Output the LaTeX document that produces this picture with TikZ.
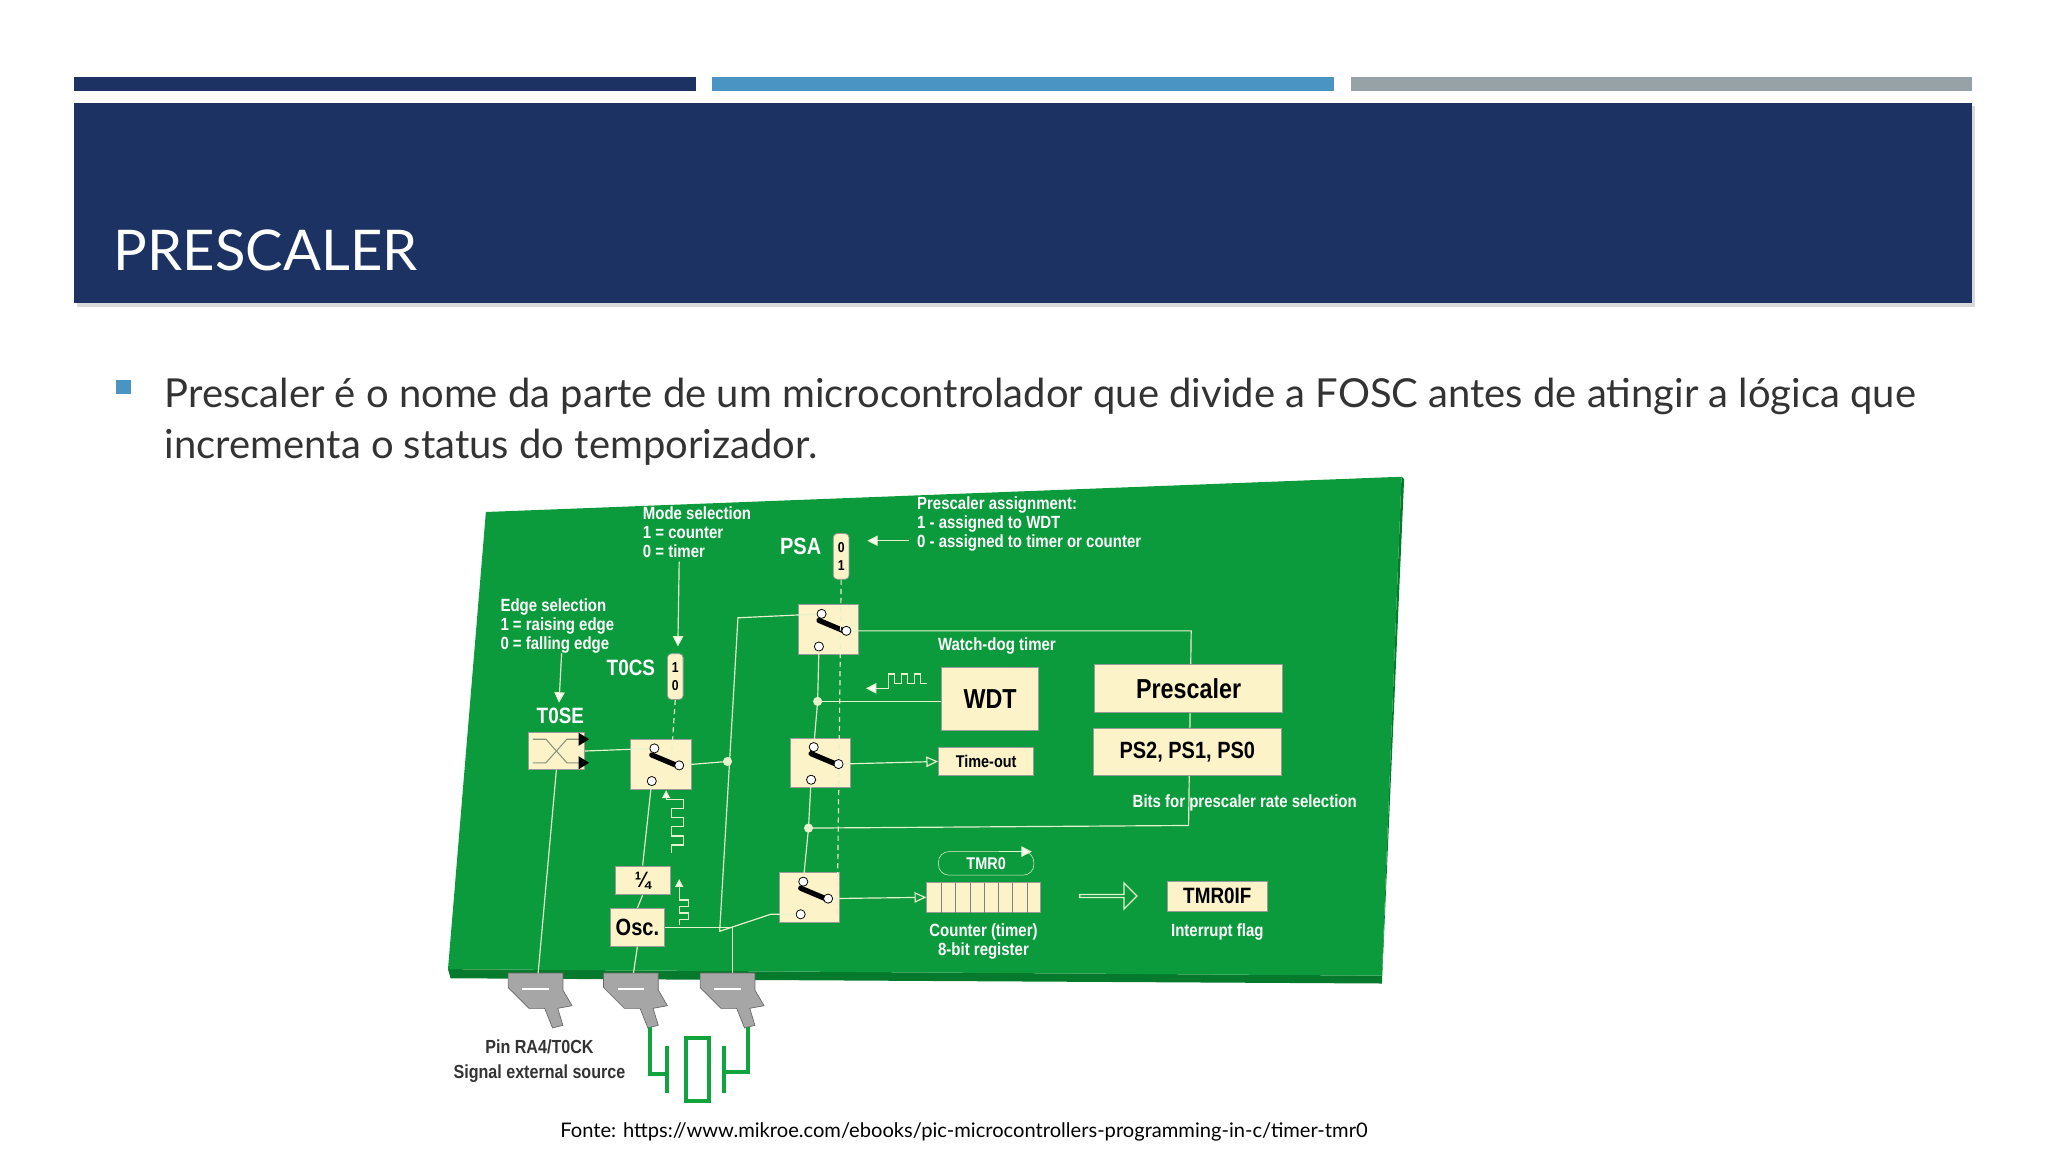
\documentclass[tikz,border=0pt]{standalone}
\usepackage{fontspec}
\setmainfont{Lato}
\newfontfamily\dg[FakeStretch=0.85]{Liberation Sans}
\usetikzlibrary{arrows.meta,shapes.arrows}
\definecolor{navy}{HTML}{1C3262}
\definecolor{barblue}{HTML}{4A94C4}
\definecolor{bargray}{HTML}{96A2A6}
\definecolor{board}{HTML}{0B9A3C}
\definecolor{boardside}{HTML}{067A2C}
\definecolor{cream}{HTML}{FCF3C8}
\definecolor{wire}{HTML}{E6F2CC}
\definecolor{txt}{HTML}{333333}
\definecolor{xtal}{HTML}{12A23E}
\tikzset{
 dtext/.style={text=white,font=\dg\bfseries\fontsize{13.5}{14.5}\selectfont,align=left,inner sep=0},
 cbox/.style={fill=cream,draw=black!40,line width=0.6pt,inner sep=0,font=\dg\bfseries},
 wl/.style={draw=wire,line width=0.9pt},
 dsh/.style={draw=wire,line width=0.9pt,dash pattern=on 4pt off 3pt},
 dotc/.style={circle,fill=wire,inner sep=0,minimum size=7pt},
 pin/.style={fill=white,draw=black,line width=0.6pt,inner sep=1.5pt,circle,minimum size=8pt},
 wa/.style={wl,-{Triangle[open,length=9pt,width=8pt]}},
 ws/.style={wl,-{Triangle[length=8pt,width=8pt,fill=white]}},
 switchbox/.pic={
   \fill[cream,draw=black!40,line width=0.6pt] (-23,-19) rectangle (23,19);
   \draw[line width=4pt,line cap=round,black] (-7,-7) -- (12,1);
   \node[pin,minimum size=7pt] (-in) at (-5,-12) {};
   \node[pin,minimum size=7pt] (-out) at (14,1) {};
   \node[pin,minimum size=7pt] (-bot) at (-7,13) {};
 },
 pinshape/.pic={
   \fill[gray!70,draw=black!60,line width=0.5pt] (-24,0) -- (18,0) -- (18,13) -- (25,25) -- (14,27) -- (18,40) -- (10,42) -- (4,27) -- (-8,27) -- (-24,11) -- cycle;
   \draw[white,line width=1.2pt] (-13,12) -- (7,12);
 }
}
\begin{document}
\begin{tikzpicture}[x=1pt,y=-1pt]
\useasboundingbox (0,0) rectangle (1568,882);
\fill[white] (0,0) rectangle (1568,882);
% top bars
\fill[navy] (57,59) rectangle (533,70);
\fill[barblue] (545,59) rectangle (1021,70);
\fill[bargray] (1034,59) rectangle (1510,70);
\fill[black!15] (59,81) rectangle (1512,235);
\fill[navy] (57,79) rectangle (1510,232);
\node[anchor=base west,text=white,font=\fontsize{43}{47}\selectfont,inner sep=0] (title) at (87,207) {PRESCALER};
% bullet
\fill[barblue] (89,291) rectangle (100,302);
\node[anchor=north west,text=txt,font=\fontsize{30.6}{39.5}\selectfont,align=left,inner sep=0] (body) at (126,289)
 {Prescaler é o nome da parte de um microcontrolador que divide a FOSC antes de atingir a lógica que\\incrementa o status do temporizador.};
% board
\fill[boardside] (343,742) -- (1058,747) -- (1073,365) -- (1075,367) -- (1058,753) -- (345,749) -- cycle;
\fill[board] (372,392) -- (1073,365) -- (1058,747) -- (343,742) -- cycle;
% texts
\node[dtext,anchor=north west] (mode) at (492,388) {Mode selection\\1 = counter\\0 = timer};
\node[dtext,anchor=north west] (pa) at (702,380) {Prescaler assignment:\\1 - assigned to WDT\\0 - assigned to timer or counter};
\node[dtext,anchor=north west] (edge) at (383,458) {Edge selection\\1 = raising edge\\0 = falling edge};
\node[dtext,font=\dg\bfseries\fontsize{18}{18}\selectfont] (psa) at (613,418) {PSA};
\node[dtext,font=\dg\bfseries\fontsize{17}{17}\selectfont] (tocs) at (483,511) {T0CS};
\node[dtext,font=\dg\bfseries\fontsize{17}{17}\selectfont] (tose) at (429,548) {T0SE};
\node[cbox,rounded corners=3pt,minimum width=12pt,minimum height=35pt,align=center,font=\dg\bfseries\fontsize{11}{14}\selectfont] (psat) at (644,426) {0\\1};
\node[cbox,rounded corners=3pt,minimum width=12pt,minimum height=35pt,align=center,font=\dg\bfseries\fontsize{11}{14}\selectfont] (tocst) at (517,518) {1\\0};
\coordinate (paend) at (696,414);
\draw[ws] (paend) -- (664,414);
\draw[ws] (520,430) -- (519,495);
\draw[ws] (430,500) -- (428,538);
% T0SE box
\node[cbox,minimum width=43pt,minimum height=28pt] (tosebox) at (426,575) {};
\draw[wire!60!black,line width=0.8pt] (408,566) -- (418,566) -- (434,584) -- (444,584);
\draw[wire!60!black,line width=0.8pt] (408,584) -- (418,584) -- (434,566) -- (444,566);
\fill[black] (443,561) -- (451,566) -- (443,571) -- cycle;
\fill[black] (443,579) -- (451,584) -- (443,589) -- cycle;
% switches
\pic (s1) at (506,585) {switchbox};
\pic (sp) at (634,482) {switchbox};
\pic (sm) at (628,584) {switchbox};
\pic (sb) at (620,687) {switchbox};
% dashed control lines
\draw[dsh] (psat.south) -- (641,700);
\draw[dsh] (tocst.south) -- (514,580);
% WDT etc
\node[dtext,anchor=south west] (wdtl) at (718,501) {Watch-dog timer};
\node[cbox,minimum width=74pt,minimum height=48pt,font=\dg\bfseries\fontsize{21}{21}\selectfont] (wdt) at (758,535) {WDT};
\node[cbox,minimum width=73pt,minimum height=22pt,font=\dg\bfseries\fontsize{13}{13}\selectfont] (to) at (755,583) {Time-out};
% right line through prescaler
\coordinate (r1) at (912,475);
\coordinate (r2) at (910,632);
\coordinate (dot2) at (619,634);
\coordinate (dot1) at (626,537);
\draw[wl] (sp-out) -- (r1|-sp-out) -- (r2) -- (dot2);
\node[cbox,minimum width=144pt,minimum height=37pt,font=\dg\bfseries\fontsize{21}{21}\selectfont] (presc) at (910,527) {Prescaler};
\node[cbox,minimum width=144pt,minimum height=36pt,font=\dg\bfseries\fontsize{18}{18}\selectfont] (ps) at (909,576) {PS2, PS1, PS0};
\node[dtext,anchor=base west] (bits) at (867,618) {Bits for prescaler rate selection};
% middle chain
\draw[wl] (sp-bot) -- (dot1) -- (sm-in);
\draw[wl] (wdt.west|-dot1) -- (dot1);
\node[dotc] at (dot1) {};
\draw[wl] (sm-bot) -- (dot2) -- (sb-in);
\node[dotc] at (dot2) {};
\draw[wa] (sm-out) -- (to.west);
% WDT pulse
\draw[wl,-{Triangle[length=8pt,width=8pt,fill=white]}] (710,523) -- (705,523) -- (705,516) -- (700,516) -- (700,523) -- (695,523) -- (695,516) -- (690,516) -- (690,523) -- (685,523) -- (685,516) -- (680,516) -- (680,527) -- (663,527);
% left big vertical
\coordinate (v1) at (565,473);
\coordinate (v2) at (551,713);
\coordinate (dot3) at (557,583);
\draw[wl] (sp-in) -- (v1) -- (v2) -- (sb-bot -| 590,0) -- (sb-bot);
\draw[wl] (tosebox.east) -- (s1-in);
\draw[wl] (s1-out) -- (dot3);
\node[dotc] at (dot3) {};
% TMR0
\node[draw=wire,rounded corners=8pt,minimum width=73pt,minimum height=18pt,inner sep=0,text=white,font=\dg\bfseries\fontsize{13}{13}\selectfont] (tmr0) at (755,661) {TMR0};
\draw[ws] (765,652) -- (790,652);
\node[cbox,minimum width=87pt,minimum height=23pt] (reg) at (753,687) {};
\foreach \i in {1,...,7} \draw[black!50,line width=0.6pt] (710+\i*10.9,676) -- (710+\i*10.9,699);
\draw[wa] (sb-out) -- (reg.west);
\node[dtext,align=center,anchor=north] (cnt) at (753,707) {Counter (timer)\\8-bit register};
\node[single arrow,draw=wire,line width=1pt,minimum width=20pt,single arrow head extend=4pt,minimum height=44pt,inner sep=0] (harr) at (848,686) {};
\node[cbox,minimum width=77pt,minimum height=23pt,font=\dg\bfseries\fontsize{17}{17}\selectfont] (tif) at (932,686) {TMR0IF};
\node[dtext,anchor=north] (intf) at (932,707) {Interrupt flag};
% 1/4 and Osc
\node[cbox,minimum width=42pt,minimum height=22pt,font=\dg\bfseries\fontsize{17}{17}\selectfont] (q) at (492,674) {\textonequarter};
\node[cbox,minimum width=42pt,minimum height=29pt,font=\dg\bfseries\fontsize{18}{18}\selectfont] (osc) at (488,710) {Osc.};
\draw[wl] (s1-bot) -- (q.north);
\draw[wl] (q.south) -- (osc.north);
% pulse symbols
\draw[wl,-{Triangle[length=6pt,width=6pt,fill=white]}] (514,653) -- (514,647) -- (523,647) -- (523,640) -- (514,640) -- (514,633) -- (523,633) -- (523,626) -- (514,626) -- (514,619) -- (523,619) -- (523,612) -- (510,612) -- (510,605);
\draw[wl,-{Triangle[length=6pt,width=6pt,fill=white]}] (520,708) -- (520,704) -- (527,704) -- (527,699) -- (520,699) -- (520,694) -- (527,694) -- (527,689) -- (520,689) -- (520,680) -- (520,673);
% pins
\pic at (413,745) {pinshape};
\pic at (486,745) {pinshape};
\pic at (560,745) {pinshape};
\coordinate (p1) at (412,745);
\coordinate (p2) at (485,745);
\coordinate (p3) at (561,745);
\draw[wl] (tosebox.south) -- (p1);
\draw[wl] (osc.south) -- (p2);
\draw[wl] (osc.east) -- (p3|-osc.east) -- (p3);
% crystal
\draw[xtal,line width=3pt] (498,786) -- (498,822) -- (511,822);
\draw[xtal,line width=3pt] (511,801) -- (511,837);
\draw[xtal,line width=3pt] (525,795) rectangle (543,843);
\draw[xtal,line width=3pt] (554,801) -- (554,837);
\draw[xtal,line width=3pt] (554,821) -- (573,821) -- (573,786);
\node[anchor=north,text=black!80,font=\dg\bfseries\fontsize{14.5}{19}\selectfont,align=center,inner sep=0] (pintxt) at (413,796) {Pin RA4/T0CK\\Signal external source};
\node[anchor=base,text=black,font=\fontsize{15.4}{15}\selectfont,inner sep=0] (fonte) at (738,871) {Fonte: https://www.mikroe.com/ebooks/pic-microcontrollers-programming-in-c/timer-tmr0};
\end{tikzpicture}
\end{document}
